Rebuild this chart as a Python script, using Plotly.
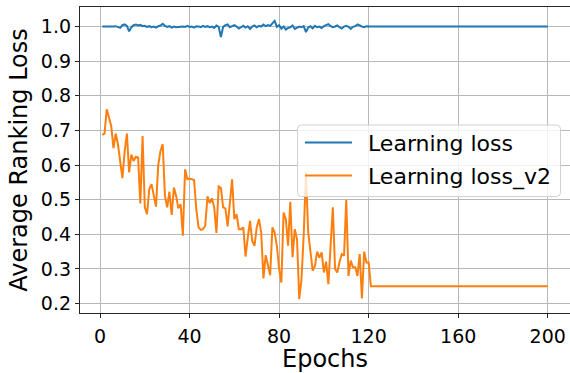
import plotly.graph_objects as go

# Training curves: average ranking loss per epoch for two loss variants
epochs = list(range(1, 201))

learning_loss_head = [
    1.000, 1.000, 0.999, 1.000, 0.998, 1.000, 1.001, 0.998, 0.996, 1.004,
    1.006, 1.002, 0.986, 0.998, 1.004, 1.006, 1.003, 1.005, 1.001, 1.002,
    0.999, 1.001, 0.998, 1.000, 0.997, 1.001, 1.003, 1.008, 1.002, 0.999,
    1.001, 0.997, 1.000, 0.998, 0.999, 1.001, 1.000, 0.999, 1.002, 0.999,
    1.000, 0.997, 1.001, 1.000, 0.998, 1.002, 0.999, 1.001, 0.998, 1.000,
    0.996, 1.003, 0.999, 0.970, 0.999, 1.004, 1.006, 0.998, 1.001, 1.004,
    1.000, 0.994, 0.998, 1.002, 0.997, 1.001, 0.993, 1.000, 1.003, 0.998,
    1.002, 1.000, 1.006, 1.001, 1.004, 1.002, 1.009, 1.016, 0.999, 1.004,
    0.994, 1.000, 0.991, 0.996, 0.998, 1.003, 0.993, 0.996, 1.000, 0.998,
    1.001, 0.984, 0.997, 1.001, 0.995, 1.002, 0.998, 1.000, 0.996, 1.001,
    1.003, 1.007, 1.001, 0.998, 1.000, 1.003, 0.998, 0.994, 1.000, 1.002,
    0.999, 0.993, 0.999, 1.001, 1.006, 1.002, 1.000, 0.998, 1.001, 1.000,
]
learning_loss_tail = [1.000] * 80

learning_loss_v2_head = [
    0.687, 0.691, 0.761, 0.735, 0.713, 0.649, 0.691, 0.660, 0.610, 0.562,
    0.640, 0.691, 0.579, 0.630, 0.612, 0.624, 0.622, 0.489, 0.684, 0.479,
    0.458, 0.531, 0.545, 0.515, 0.480, 0.600, 0.641, 0.660, 0.511, 0.478,
    0.523, 0.456, 0.535, 0.511, 0.475, 0.487, 0.396, 0.588, 0.559, 0.561,
    0.560, 0.557, 0.473, 0.420, 0.413, 0.415, 0.425, 0.510, 0.490, 0.504,
    0.478, 0.404, 0.538, 0.534, 0.478, 0.475, 0.423, 0.490, 0.559, 0.444,
    0.458, 0.415, 0.415, 0.420, 0.336, 0.390, 0.439, 0.381, 0.367, 0.420,
    0.444, 0.406, 0.273, 0.340, 0.309, 0.282, 0.420, 0.406, 0.367, 0.300,
    0.261, 0.463, 0.444, 0.367, 0.494, 0.334, 0.415, 0.386, 0.213, 0.271,
    0.400, 0.579, 0.406, 0.350, 0.295, 0.309, 0.350, 0.333, 0.348, 0.290,
    0.321, 0.256, 0.380, 0.478, 0.300, 0.290, 0.320, 0.343, 0.338, 0.500,
    0.280, 0.324, 0.305, 0.305, 0.280, 0.343, 0.215, 0.350, 0.319, 0.319,
]
learning_loss_v2_tail = [0.250] * 80

learning_loss = learning_loss_head + learning_loss_tail
learning_loss_v2 = learning_loss_v2_head + learning_loss_v2_tail

series_names = ["Learning loss", "Learning loss_v2"]
series_colors = ["#1f77b4", "#ff7f0e"]

x_ticks = [0, 40, 80, 120, 160, 200]
y_ticks = [0.2, 0.3, 0.4, 0.5, 0.6, 0.7, 0.8, 0.9, 1.0]

FONT = "DejaVu Sans"
W, H = 570, 373
ML, MR, MT, MB = 80, 0, 7, 60
PW, PH = W - ML - MR, H - MT - MB

fig = go.Figure()
for name, values, color in zip(series_names, [learning_loss, learning_loss_v2], series_colors):
    fig.add_trace(go.Scatter(
        x=epochs, y=values, mode="lines", name=name,
        line=dict(color=color, width=2), showlegend=False,
    ))


def px_x(p):
    return (p - ML) / PW


def px_y(p):
    return 1 - (p - MT) / PH


# legend box with rounded corners, drawn in paper coordinates
bx0, bx1, by0, by1, r = 297.5, 560.5, 125.0, 196.5, 4.0
path = (
    f"M {px_x(bx0 + r)},{px_y(by0)} L {px_x(bx1 - r)},{px_y(by0)} "
    f"Q {px_x(bx1)},{px_y(by0)} {px_x(bx1)},{px_y(by0 + r)} "
    f"L {px_x(bx1)},{px_y(by1 - r)} "
    f"Q {px_x(bx1)},{px_y(by1)} {px_x(bx1 - r)},{px_y(by1)} "
    f"L {px_x(bx0 + r)},{px_y(by1)} "
    f"Q {px_x(bx0)},{px_y(by1)} {px_x(bx0)},{px_y(by1 - r)} "
    f"L {px_x(bx0)},{px_y(by0 + r)} "
    f"Q {px_x(bx0)},{px_y(by0)} {px_x(bx0 + r)},{px_y(by0)} Z"
)
shapes = [dict(type="path", path=path, xref="paper", yref="paper",
               fillcolor="rgba(255,255,255,0.8)", line=dict(color="#d0d0d0", width=1),
               layer="above")]
annotations = []
for i, (name, color) in enumerate(zip(series_names, series_colors)):
    yc = 142.5 + i * 33
    shapes.append(dict(type="line", xref="paper", yref="paper",
                       x0=px_x(305), x1=px_x(352), y0=px_y(yc), y1=px_y(yc),
                       line=dict(color=color, width=2), layer="above"))
    annotations.append(dict(text=name, xref="paper", yref="paper",
                            x=px_x(366), y=px_y(yc + 1), xanchor="left", yanchor="middle",
                            showarrow=False, font=dict(family=FONT, size=22, color="black")))

axis_common = dict(
    showline=True, linecolor="#262626", linewidth=1.3, mirror=True,
    ticks="outside", ticklen=4, tickwidth=1.2, tickcolor="#262626",
    showgrid=True, gridcolor="#b8b8b8", gridwidth=1, zeroline=False,
    tickfont=dict(family=FONT, size=19, color="black"),
)

fig.update_layout(
    width=W, height=H,
    margin=dict(l=ML, r=MR, t=MT, b=MB, pad=0),
    paper_bgcolor="white", plot_bgcolor="white",
    xaxis=dict(range=[-8.95, 209.95], tickvals=x_ticks, ticktext=[str(v) for v in x_ticks],
               ticklabelstandoff=2,
               title=dict(text="Epochs", font=dict(family=FONT, size=24, color="black"), standoff=5),
               **axis_common),
    yaxis=dict(range=[0.1729, 1.0564], tickvals=y_ticks, ticktext=[f"{v:.1f}" for v in y_ticks],
               title=dict(text="Average Ranking Loss", font=dict(family=FONT, size=24, color="black"), standoff=6),
               **axis_common),
    shapes=shapes, annotations=annotations,
)

fig.write_html("out.html")
